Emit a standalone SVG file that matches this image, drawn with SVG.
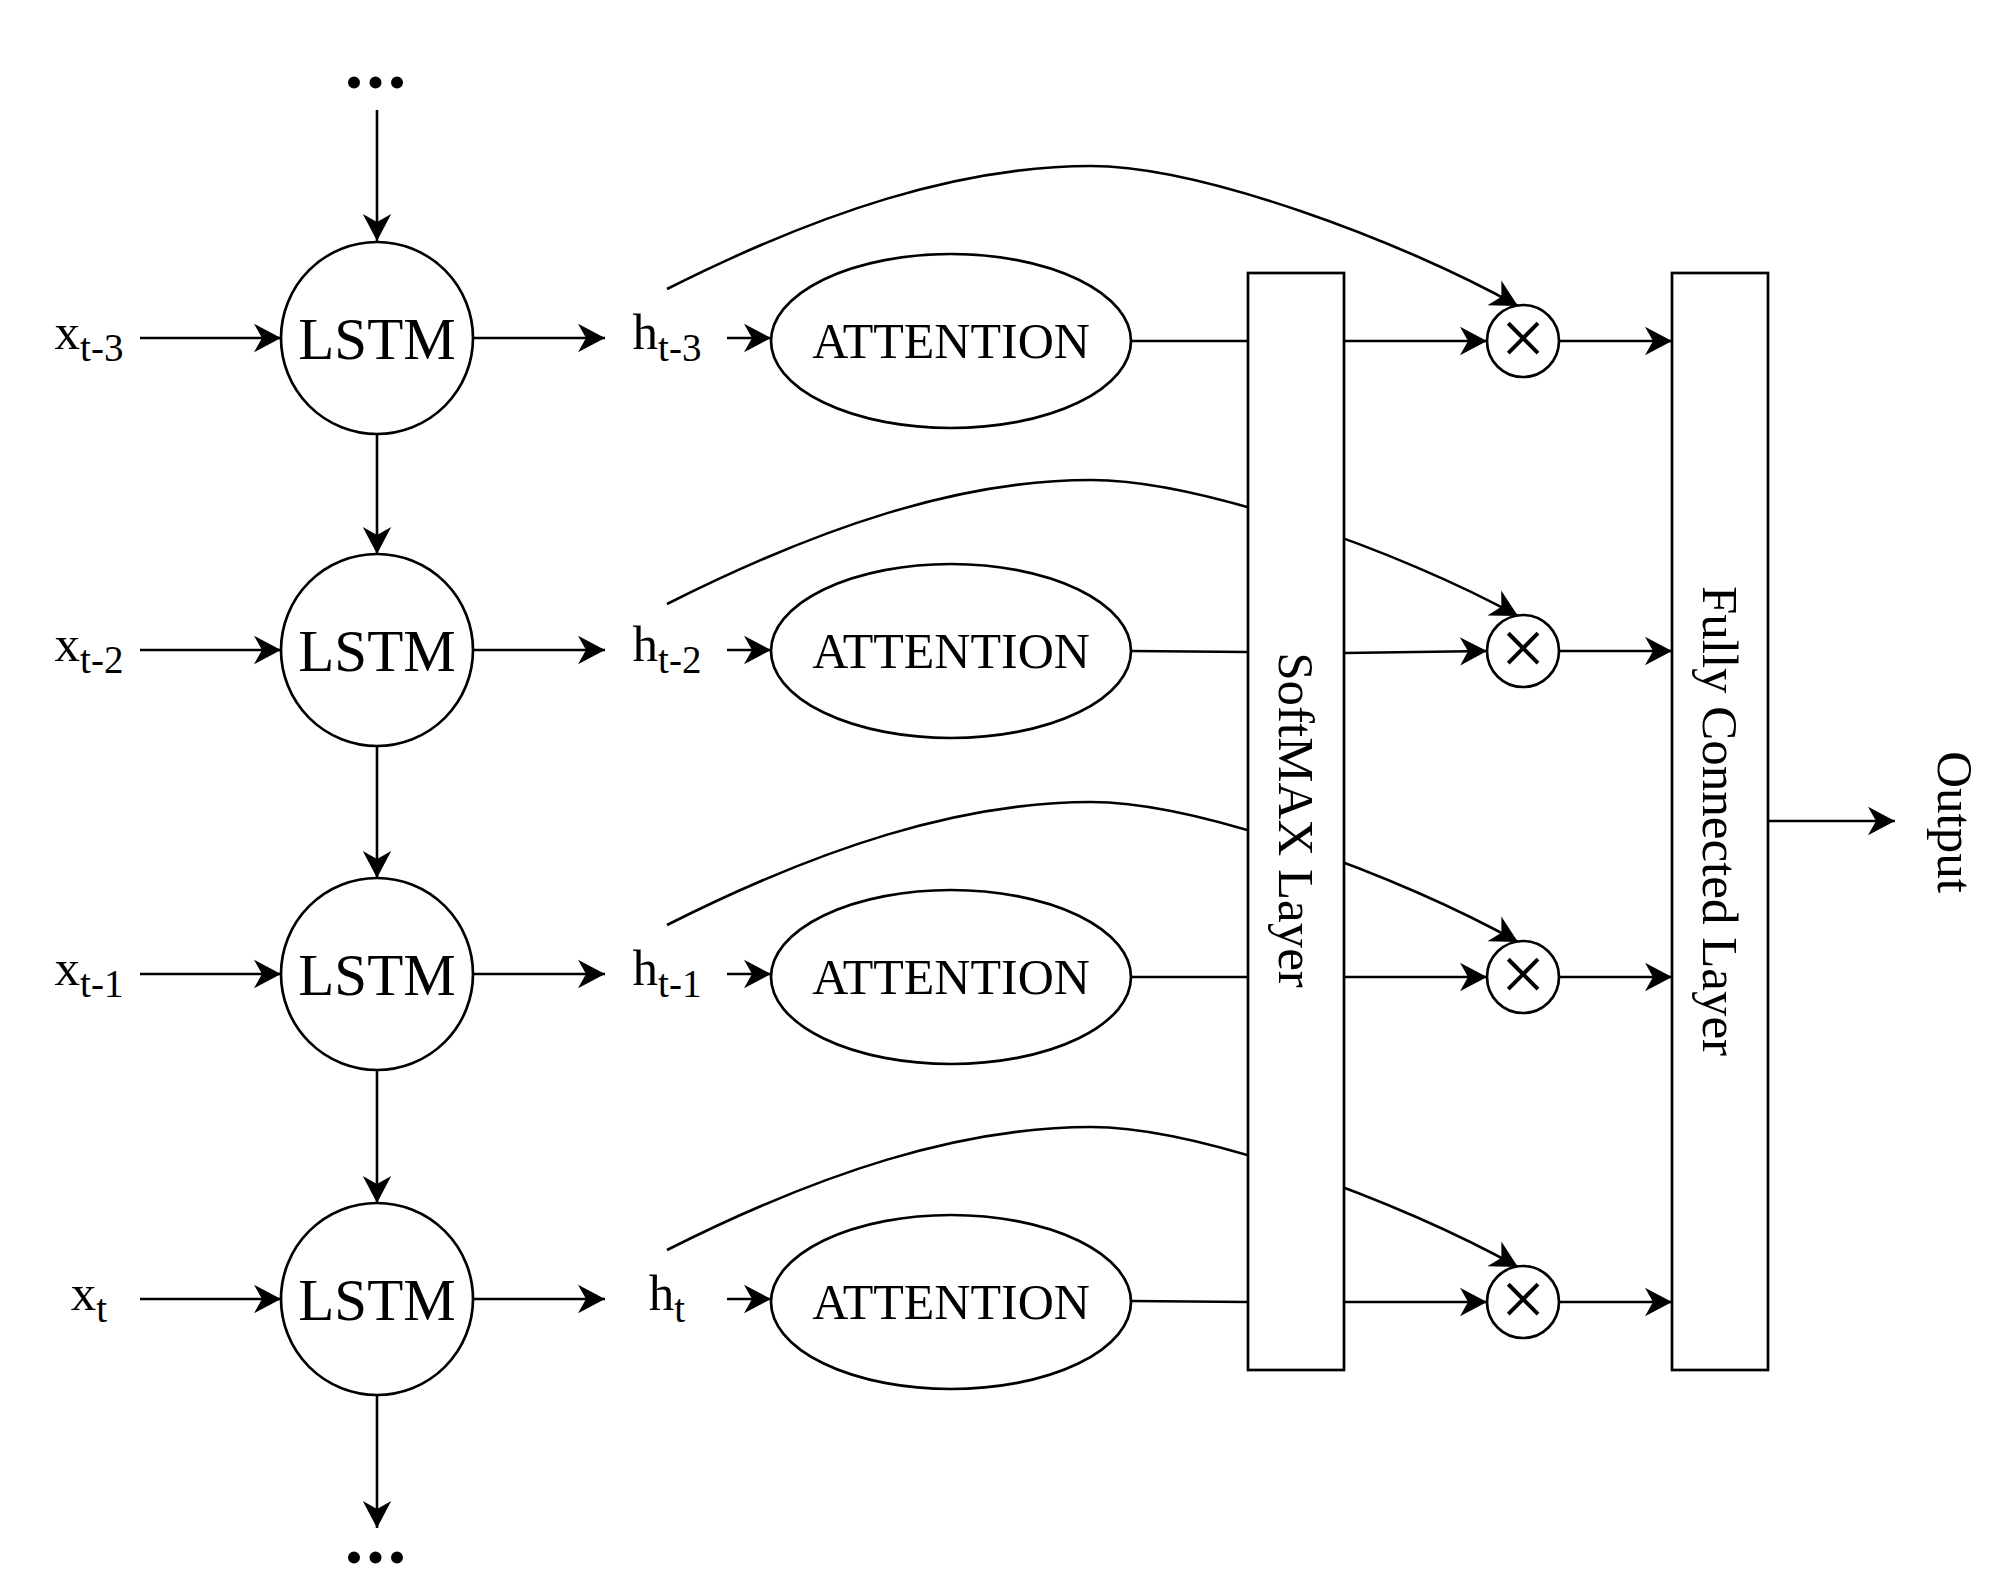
<svg xmlns="http://www.w3.org/2000/svg" width="2000" height="1587" viewBox="0 0 2000 1587">
<style>
  text { font-family: "Liberation Serif", "Times New Roman", serif; fill: #000; }
  .shape { fill: #fff; stroke: #000; stroke-width: 2.7; }
  .edge { fill: none; stroke: #000; stroke-width: 2.6; }
  .arr { marker-end: url(#ah); }
  .lstm { font-size: 59px; text-anchor: middle; }
  .att { font-size: 50px; text-anchor: middle; }
  .lbl { font-size: 51px; text-anchor: middle; }
  .sub { font-size: 39px; }
  .dots { font-size: 74px; font-weight: bold; text-anchor: middle; letter-spacing: 3px; }
  .mul { font-size: 80px; text-anchor: middle; }
  .vert { font-size: 51px; text-anchor: middle; }
</style>
<defs>
  <marker id="ah" markerUnits="userSpaceOnUse" markerWidth="30" markerHeight="30" refX="27" refY="15" orient="auto" overflow="visible">
    <path d="M0,0.8 L27,15 L0,29.2 L8,15 Z" fill="#000" stroke="none"/>
  </marker>
</defs>
<rect width="2000" height="1587" fill="#fff"/>

<g id="connectors">
  <!-- vertical LSTM chain -->
  <path class="edge arr" d="M377,110 V241"/>
  <path class="edge arr" d="M377,434 V554"/>
  <path class="edge arr" d="M377,746 V878"/>
  <path class="edge arr" d="M377,1070 V1203"/>
  <path class="edge arr" d="M377,1395 V1528"/>
  <!-- row 1 -->
  <path class="edge arr" d="M140,338 H281"/>
  <path class="edge arr" d="M473,338 H605"/>
  <path class="edge arr" d="M727,338 H771"/>
  <path class="edge" d="M1131,341 H1248"/>
  <path class="edge arr" d="M1344,341 H1487"/>
  <path class="edge arr" d="M1559,341 H1672"/>
  <path class="edge arr" d="M667,289 C820,212 960,166 1091,166 C1200,166 1400,240 1518,306"/>
  <!-- row 2 -->
  <path class="edge arr" d="M140,650 H281"/>
  <path class="edge arr" d="M473,650 H605"/>
  <path class="edge arr" d="M727,650 H771"/>
  <path class="edge" d="M1131,651 L1248,652"/>
  <path class="edge arr" d="M1344,653 L1487,651"/>
  <path class="edge arr" d="M1559,651 H1672"/>
  <path class="edge arr" d="M667,604 C820,527 960,480 1091,480 C1200,480 1400,551 1518,616"/>
  <!-- row 3 -->
  <path class="edge arr" d="M140,974 H281"/>
  <path class="edge arr" d="M473,974 H605"/>
  <path class="edge arr" d="M727,974 H771"/>
  <path class="edge" d="M1131,977 H1248"/>
  <path class="edge arr" d="M1344,977 H1487"/>
  <path class="edge arr" d="M1559,977 H1672"/>
  <path class="edge arr" d="M667,925 C820,848 960,802 1091,802 C1200,802 1400,876 1518,942"/>
  <!-- row 4 -->
  <path class="edge arr" d="M140,1299 H281"/>
  <path class="edge arr" d="M473,1299 H605"/>
  <path class="edge arr" d="M727,1299 H771"/>
  <path class="edge" d="M1131,1301 L1248,1302"/>
  <path class="edge arr" d="M1344,1302 H1487"/>
  <path class="edge arr" d="M1559,1302 H1672"/>
  <path class="edge arr" d="M667,1250 C820,1173 960,1127 1091,1127 C1200,1127 1400,1201 1518,1267"/>
  <!-- output -->
  <path class="edge arr" d="M1768,821 H1895"/>
</g>

<g id="dots-top"><text class="dots" x="377" y="88">...</text></g>
<g id="dots-bottom"><text class="dots" x="377" y="1563">...</text></g>

<g id="x-t3"><text class="lbl" x="89" y="349">x<tspan class="sub" dy="12">t-3</tspan></text></g>
<g id="x-t2"><text class="lbl" x="89" y="661">x<tspan class="sub" dy="12">t-2</tspan></text></g>
<g id="x-t1"><text class="lbl" x="89" y="985">x<tspan class="sub" dy="12">t-1</tspan></text></g>
<g id="x-t"><text class="lbl" x="89" y="1310">x<tspan class="sub" dy="12">t</tspan></text></g>

<g id="lstm-1"><circle class="shape" cx="377" cy="338" r="96"/><text class="lstm" x="377" y="359">LSTM</text></g>
<g id="lstm-2"><circle class="shape" cx="377" cy="650" r="96"/><text class="lstm" x="377" y="671">LSTM</text></g>
<g id="lstm-3"><circle class="shape" cx="377" cy="974" r="96"/><text class="lstm" x="377" y="995">LSTM</text></g>
<g id="lstm-4"><circle class="shape" cx="377" cy="1299" r="96"/><text class="lstm" x="377" y="1320">LSTM</text></g>

<g id="h-t3"><text class="lbl" x="667" y="349">h<tspan class="sub" dy="12">t-3</tspan></text></g>
<g id="h-t2"><text class="lbl" x="667" y="661">h<tspan class="sub" dy="12">t-2</tspan></text></g>
<g id="h-t1"><text class="lbl" x="667" y="985">h<tspan class="sub" dy="12">t-1</tspan></text></g>
<g id="h-t"><text class="lbl" x="667" y="1310">h<tspan class="sub" dy="12">t</tspan></text></g>

<g id="attention-1"><ellipse class="shape" cx="951" cy="341" rx="180" ry="87"/><text class="att" x="951" y="358">ATTENTION</text></g>
<g id="attention-2"><ellipse class="shape" cx="951" cy="651" rx="180" ry="87"/><text class="att" x="951" y="668">ATTENTION</text></g>
<g id="attention-3"><ellipse class="shape" cx="951" cy="977" rx="180" ry="87"/><text class="att" x="951" y="994">ATTENTION</text></g>
<g id="attention-4"><ellipse class="shape" cx="951" cy="1302" rx="180" ry="87"/><text class="att" x="951" y="1319">ATTENTION</text></g>

<g id="softmax"><rect class="shape" x="1248" y="273" width="96" height="1097"/><text class="vert" transform="translate(1279,820) rotate(90)">SoftMAX Layer</text></g>

<g id="mul-1"><circle class="shape" cx="1523" cy="341" r="36"/><text class="mul" x="1523" y="365">×</text></g>
<g id="mul-2"><circle class="shape" cx="1523" cy="651" r="36"/><text class="mul" x="1523" y="675">×</text></g>
<g id="mul-3"><circle class="shape" cx="1523" cy="977" r="36"/><text class="mul" x="1523" y="1001">×</text></g>
<g id="mul-4"><circle class="shape" cx="1523" cy="1302" r="36"/><text class="mul" x="1523" y="1326">×</text></g>

<g id="fully-connected"><rect class="shape" x="1672" y="273" width="96" height="1097"/><text class="vert" transform="translate(1703,821) rotate(90)">Fully Connected Layer</text></g>

<g id="output"><text class="vert" transform="translate(1938,822) rotate(90)">Output</text></g>
</svg>
